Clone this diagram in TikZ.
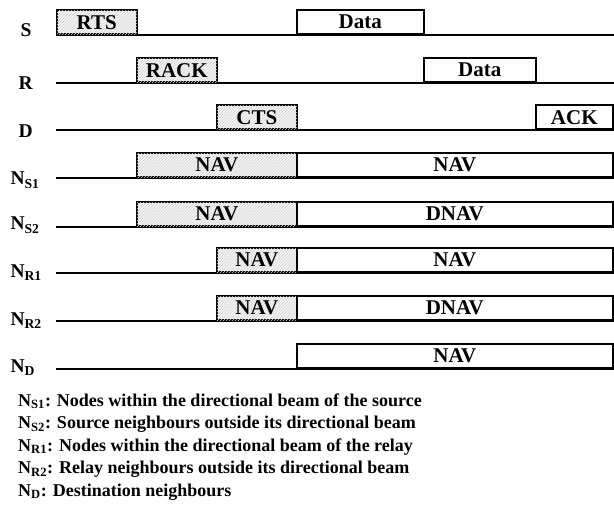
\documentclass[tikz,border=0pt]{standalone}
\usepackage{fontspec}
\setmainfont{Liberation Serif}
\usetikzlibrary{patterns}

\begin{document}
\begin{tikzpicture}[x=1pt,y=-1pt]
\tikzset{ln/.style={line width=1.6pt},b/.style={ln,draw,anchor=south west,minimum height=24,inner sep=0pt,font=\bfseries\fontsize{21}{21}\selectfont},hb/.style={b,fill=gray!8,postaction={pattern=north east lines,pattern color=gray!35}},wb/.style={b,fill=white},rl/.style={anchor=base west,font=\bfseries\fontsize{19.5}{19.5}\selectfont},lg/.style={anchor=base west,inner sep=0pt,font=\bfseries\fontsize{18}{18}\selectfont}}
\useasboundingbox (0,0) rectangle (614,508);
% time lines
\foreach \y in {35,83,130,178,227,273,321,369} \draw[ln] (56,\y) -- (614,\y);
% row labels
\node[rl] (s) at (17,37) {S};
\node[rl] (r) at (15,90) {R};
\node[rl] (d) at (15,138) {D};
\node[rl] (ns1) at (7,185) {N\textsubscript{S1}};
\node[rl] (ns2) at (7,230) {N\textsubscript{S2}};
\node[rl] (nr1) at (7,277) {N\textsubscript{R1}};
\node[rl] (nr2) at (7,325) {N\textsubscript{R2}};
\node[rl] (nd) at (7,372) {N\textsubscript{D}};
% frames
\node[hb,minimum width=80] (rts) at (56,35) {RTS};
\node[wb,minimum width=127] (sdata) at (296,35) {Data};
\node[hb,minimum width=80] (rack) at (136,83) {RACK};
\node[wb,minimum width=112] (rdata) at (423,83) {Data};
\node[hb,minimum width=80] (cts) at (216,130) {CTS};
\node[wb,minimum width=77] (ack) at (535,130) {ACK};
% NAV timers
\node[hb,minimum width=160] (navs1) at (136,178) {NAV};
\node[wb,minimum width=316] (navs1b) at (296,178) {NAV};
\node[hb,minimum width=160] (navs2) at (136,227) {NAV};
\node[wb,minimum width=316] (dnavs2) at (296,227) {DNAV};
\node[hb,minimum width=80] (navr1) at (216,273) {NAV};
\node[wb,minimum width=316] (navr1b) at (296,273) {NAV};
\node[hb,minimum width=80] (navr2) at (216,321) {NAV};
\node[wb,minimum width=316] (dnavr2) at (296,321) {DNAV};
\node[wb,minimum width=316] (navd) at (296,369) {NAV};
% legend
\node[lg] (l1) at (18,406) {N\textsubscript{S1}: Nodes within the directional beam of the source};
\node[lg] (l2) at (18,428.5) {N\textsubscript{S2}: Source neighbours outside its directional beam};
\node[lg] (l3) at (18,451) {N\textsubscript{R1}: Nodes within the directional beam of the relay};
\node[lg] (l4) at (18,473.5) {N\textsubscript{R2}: Relay neighbours outside its directional beam};
\node[lg] (l5) at (18,496) {N\textsubscript{D}: Destination neighbours};
\end{tikzpicture}
\end{document}
